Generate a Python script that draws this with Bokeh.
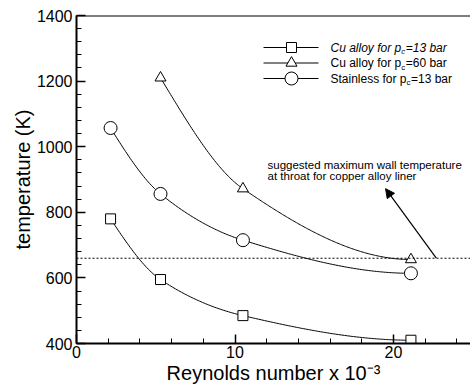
import numpy as np
from bokeh.plotting import figure
from bokeh.models import (Range1d, FixedTicker, Span, Label, Arrow, NormalHead)
from bokeh.embed import file_html
from bokeh.resources import INLINE

# ---- data ----
re_cu13 = [2.15, 5.3, 10.5, 21.1]
t_cu13 = [780, 595, 485, 410]
re_cu60 = [5.3, 10.5, 21.1]
t_cu60 = [1210, 872, 656]
re_ss13 = [2.15, 5.3, 10.5, 21.1]
t_ss13 = [1057, 856, 715, 614]
t_limit = 660
arrow_from = (22.7, 660)
arrow_to = (19.5, 872)
note_lines = ["suggested maximum wall temperature", "at throat for copper alloy liner"]
x_ticks = [0, 10, 20]
y_ticks = [400, 600, 800, 1000, 1200, 1400]

FONT = "Liberation Sans"
W, H = 470, 391
BL, BR, BT, BB = 76, 0, 15, 48
FW, FH = W - BL - BR, H - BT - BB


def pchip(x, y, xs):
    x = np.asarray(x, float); y = np.asarray(y, float)
    h = np.diff(x); d = np.diff(y) / h
    n = len(x)
    m = np.zeros(n)
    for k in range(1, n - 1):
        if d[k - 1] * d[k] > 0:
            w1 = 2 * h[k] + h[k - 1]; w2 = h[k] + 2 * h[k - 1]
            m[k] = (w1 + w2) / (w1 / d[k - 1] + w2 / d[k])
    def endslope(h0, h1, d0, d1):
        s = ((2 * h0 + h1) * d0 - h0 * d1) / (h0 + h1)
        if np.sign(s) != np.sign(d0):
            s = 0.0
        elif np.sign(d0) != np.sign(d1) and abs(s) > abs(3 * d0):
            s = 3 * d0
        return s
    if n > 2:
        m[0] = endslope(h[0], h[1], d[0], d[1])
        m[-1] = endslope(h[-1], h[-2], d[-1], d[-2])
    else:
        m[:] = d[0]
    ys = np.empty_like(xs)
    for i, xv in enumerate(xs):
        k = min(max(np.searchsorted(x, xv) - 1, 0), n - 2)
        t = (xv - x[k]) / h[k]
        h00 = 2 * t**3 - 3 * t**2 + 1; h10 = t**3 - 2 * t**2 + t
        h01 = -2 * t**3 + 3 * t**2; h11 = t**3 - t**2
        ys[i] = h00 * y[k] + h10 * h[k] * m[k] + h01 * y[k + 1] + h11 * h[k] * m[k + 1]
    return ys


p = figure(width=W, height=H, output_backend="svg", toolbar_location=None,
           x_range=Range1d(0, FW / 15.85), y_range=Range1d(400, 1400),
           min_border_left=BL, min_border_right=BR, min_border_top=BT,
           min_border_bottom=BB)
p.outline_line_color = None
p.grid.visible = False
p.background_fill_color = "white"
p.border_fill_color = "white"

p.extra_x_ranges["px"] = Range1d(0, FW)
p.extra_y_ranges["px"] = Range1d(FH, 0)

for ax in (p.xaxis[0], p.yaxis[0]):
    ax.axis_line_width = 2
    ax.axis_line_color = "black"
    ax.major_tick_in = 9
    ax.major_tick_out = 0
    ax.minor_tick_in = 5
    ax.minor_tick_out = 0
    ax.major_tick_line_width = 1.5
    ax.major_tick_line_color = "black"
    ax.minor_tick_line_color = "black"
    ax.major_label_text_font = FONT
    ax.major_label_text_font_size = "16px"
    ax.major_label_text_color = "black"
    ax.axis_label_text_font = FONT
    ax.axis_label_text_font_size = "20px"
    ax.axis_label_text_font_style = "normal"
    ax.axis_label_text_color = "black"

p.xaxis.ticker = FixedTicker(ticks=x_ticks, minor_ticks=list(range(2, 26, 2)))
p.yaxis.ticker = FixedTicker(ticks=y_ticks, minor_ticks=list(range(400, 1401, 40)))
p.xaxis.major_label_standoff = 2
p.yaxis.major_label_standoff = 4
p.xaxis.axis_label = "Reynolds number x 10\u207b\u00b3"
p.yaxis.axis_label = "temperature (K)"
p.xaxis.axis_label_standoff = 1
p.yaxis.axis_label_standoff = 0

# top border
p.add_layout(Span(location=1400, dimension="width", line_color="black", line_width=2))
# limit line
p.add_layout(Span(location=t_limit, dimension="width", line_color="black",
                  line_width=1, line_dash="2 2"))

series = [
    (re_cu13, t_cu13, "square", 10),
    (re_cu60, t_cu60, "triangle", 11),
    (re_ss13, t_ss13, "circle", 13),
]
for xs_, ys_, mk, sz in series:
    xx = np.linspace(xs_[0], xs_[-1], 200)
    p.line(xx, pchip(xs_, ys_, xx), line_color="black", line_width=1)
    p.scatter(xs_, ys_, marker=mk, size=sz, fill_color="white",
              line_color="black", line_width=1)

p.add_layout(Arrow(end=NormalHead(size=9, fill_color="black", line_color="black"),
                   x_start=arrow_from[0], y_start=arrow_from[1],
                   x_end=arrow_to[0], y_end=arrow_to[1],
                   line_color="black", line_width=1.2))

for i, ln in enumerate(note_lines):
    p.add_layout(Label(x=191, y=149 + i * 11, text=ln, x_range_name="px",
                       y_range_name="px", text_font=FONT, text_font_size="11.5px",
                       text_baseline="middle", text_color="black"))

# ---- legend (manual, for subscripts) ----
leg = [
    ("Cu alloy for p", "=13 bar", "square", 10, "italic", 70.7),
    ("Cu alloy for p", "=60 bar", "triangle", 11, "normal", 70.7),
    ("Stainless for p", "=13 bar", "circle", 13, "normal", 76.0),
]
for i, (pre, post, mk, sz, style, w1) in enumerate(leg):
    yy = 32 + i * 15.5
    p.line([187, 242], [yy, yy], x_range_name="px", y_range_name="px",
           line_color="black", line_width=1)
    p.scatter([215], [yy], marker=mk, size=sz, fill_color="white", line_color="black",
              x_range_name="px", y_range_name="px")
    x0 = 254
    p.add_layout(Label(x=x0, y=yy, text=pre, x_range_name="px", y_range_name="px",
                       text_font=FONT, text_font_size="12px", text_font_style=style,
                       text_baseline="middle", text_color="black"))
    p.add_layout(Label(x=x0 + w1, y=yy + 4, text="c", x_range_name="px", y_range_name="px",
                       text_font=FONT, text_font_size="8px", text_font_style=style,
                       text_baseline="middle", text_color="black"))
    p.add_layout(Label(x=x0 + w1 + 4.5, y=yy, text=post, x_range_name="px",
                       y_range_name="px", text_font=FONT, text_font_size="12px",
                       text_font_style=style, text_baseline="middle", text_color="black"))

open("out.html", "w").write(file_html(p, INLINE))
